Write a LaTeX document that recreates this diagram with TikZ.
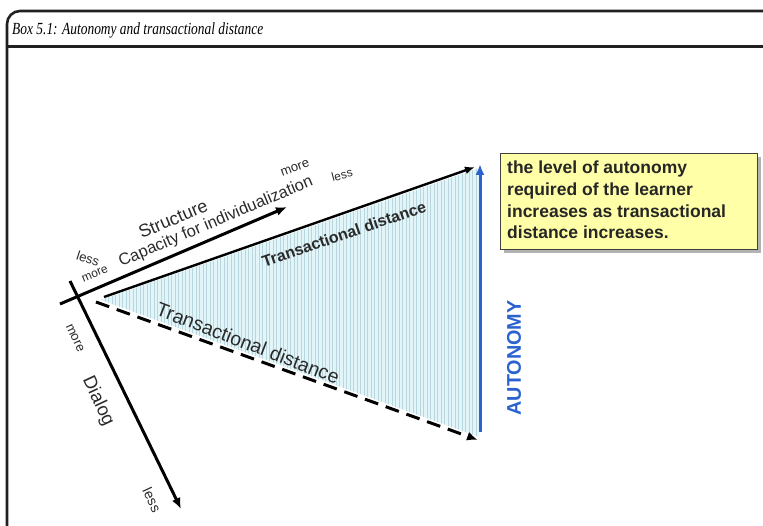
\documentclass[tikz,border=0pt]{standalone}
\usepackage{fontspec}
\setmainfont{Liberation Serif}
\newfontfamily\arial{Liberation Sans}
\usetikzlibrary{arrows.meta,patterns.meta}
\definecolor{framec}{HTML}{202020}
\definecolor{fillc}{HTML}{E2F5F8}
\definecolor{stripec}{HTML}{B9D6DE}
\definecolor{bluec}{HTML}{2A62D0}
\definecolor{yellowc}{HTML}{FFFFA8}
\definecolor{textc}{HTML}{2A2A2A}
\tikzset{
  fr/.style={draw=framec,line width=2.6pt},
  axis/.style={draw=black,line width=3pt,-{Latex[length=11pt,width=9pt]}},
  edge/.style={draw=black,line width=2.4pt,-{Latex[length=10pt,width=8pt]}},
  dashedge/.style={draw=black,line width=3pt,dash pattern=on 14pt off 8pt,-{Latex[length=11pt,width=9pt]}},
  lbl/.style={font=\arial, text=textc, inner sep=0pt},
}
\newcommand{\fsz}[1]{\fontsize{#1}{#1}\selectfont}
\begin{document}
\begin{tikzpicture}[x=1pt,y=-1pt]
\useasboundingbox (0,0) rectangle (763,526);
% frame
\draw[fr] (7,526) -- (7,24) arc[start angle=180,end angle=270,radius=13] -- (763,11);
\draw[fr] (7,46.5) -- (763,46.5);
\node[anchor=base west,inner sep=0pt,font=\itshape\fsz{17}] (title) at (12,35) {\scalebox{0.79}[1]{Box 5.1: Autonomy and transactional distance}};

% triangle fill
\coordinate (tl) at (101,300);
\coordinate (tr) at (479,168);
\coordinate (br) at (479,437);
\fill[fillc] (tl) -- (tr) -- (br) -- cycle;
\fill[pattern={Lines[angle=90,distance=3.5pt,line width=0.9pt]},pattern color=stripec] (tl) -- (tr) -- (br) -- cycle;

% axes
\coordinate (s0) at (60,304);
\coordinate (s1) at (287,207);
\coordinate (d0) at (70,281);
\coordinate (d1) at (181,509);
\draw[axis] (s0) -- (s1);
\draw[axis] (d0) -- (d1);

% triangle edges
\coordinate (u0) at (104,297);
\coordinate (u1) at (475,167);
\coordinate (l0) at (96,302);
\coordinate (l1) at (478,440);
\draw[edge] (u0) -- (u1);
\draw[dashedge] (l0) -- (l1);

% autonomy
\coordinate (a0) at (480,432);
\coordinate (a1) at (480,164);
\draw[draw=bluec,line width=3pt,-{Latex[length=11pt,width=9pt]}] (a0) -- (a1);
\node[lbl,text=bluec,font=\arial\bfseries\fsz{19.8},rotate=90] (auto) at (514,358) {AUTONOMY};

% structure labels
\node[lbl,font=\arial\fsz{18},rotate=23] (struct) at (173,219) {Structure};
\node[lbl,font=\arial\fsz{12},rotate=23] (more1) at (95,274) {more};
\node[lbl,font=\arial\fsz{16.5},rotate=23] (cap) at (216,222) {Capacity for individualization};
\node[lbl,font=\arial\fsz{13},rotate=-18] (less1) at (88,259) {less};
\node[lbl,font=\arial\fsz{13},rotate=20] (more2) at (295,168) {more};
\node[lbl,font=\arial\fsz{12},rotate=15] (less2) at (342,175) {less};

% transactional distance labels
\node[lbl,font=\arial\bfseries\fsz{16},rotate=19] (td1) at (344,234) {Transactional distance};
\node[lbl,font=\arial\fsz{19.5},rotate=-21] (td2) at (248,343) {Transactional distance};

% dialog labels
\node[lbl,font=\arial\fsz{13},rotate=-65] (more3) at (75,338) {more};
\node[lbl,font=\arial\fsz{18.5},rotate=-65] (dialog) at (98,401) {Dialog};
\node[lbl,font=\arial\fsz{14},rotate=-65] (less3) at (152,500) {less};

% note box
\fill[gray!60] (504,157) rectangle (761,253);
\node[draw=black!75,line width=0.8pt,fill=yellowc,minimum width=257pt,minimum height=96pt,anchor=north west,inner sep=0pt] (note) at (500,153) {};
\node[lbl,font=\arial\bfseries\fontsize{17.5}{21.7}\selectfont,anchor=north west,align=left,text=black!85] (notetext) at (507,161)
  {the level of autonomy\\required of the learner\\increases as transactional\\distance increases.};
\end{tikzpicture}
\end{document}
